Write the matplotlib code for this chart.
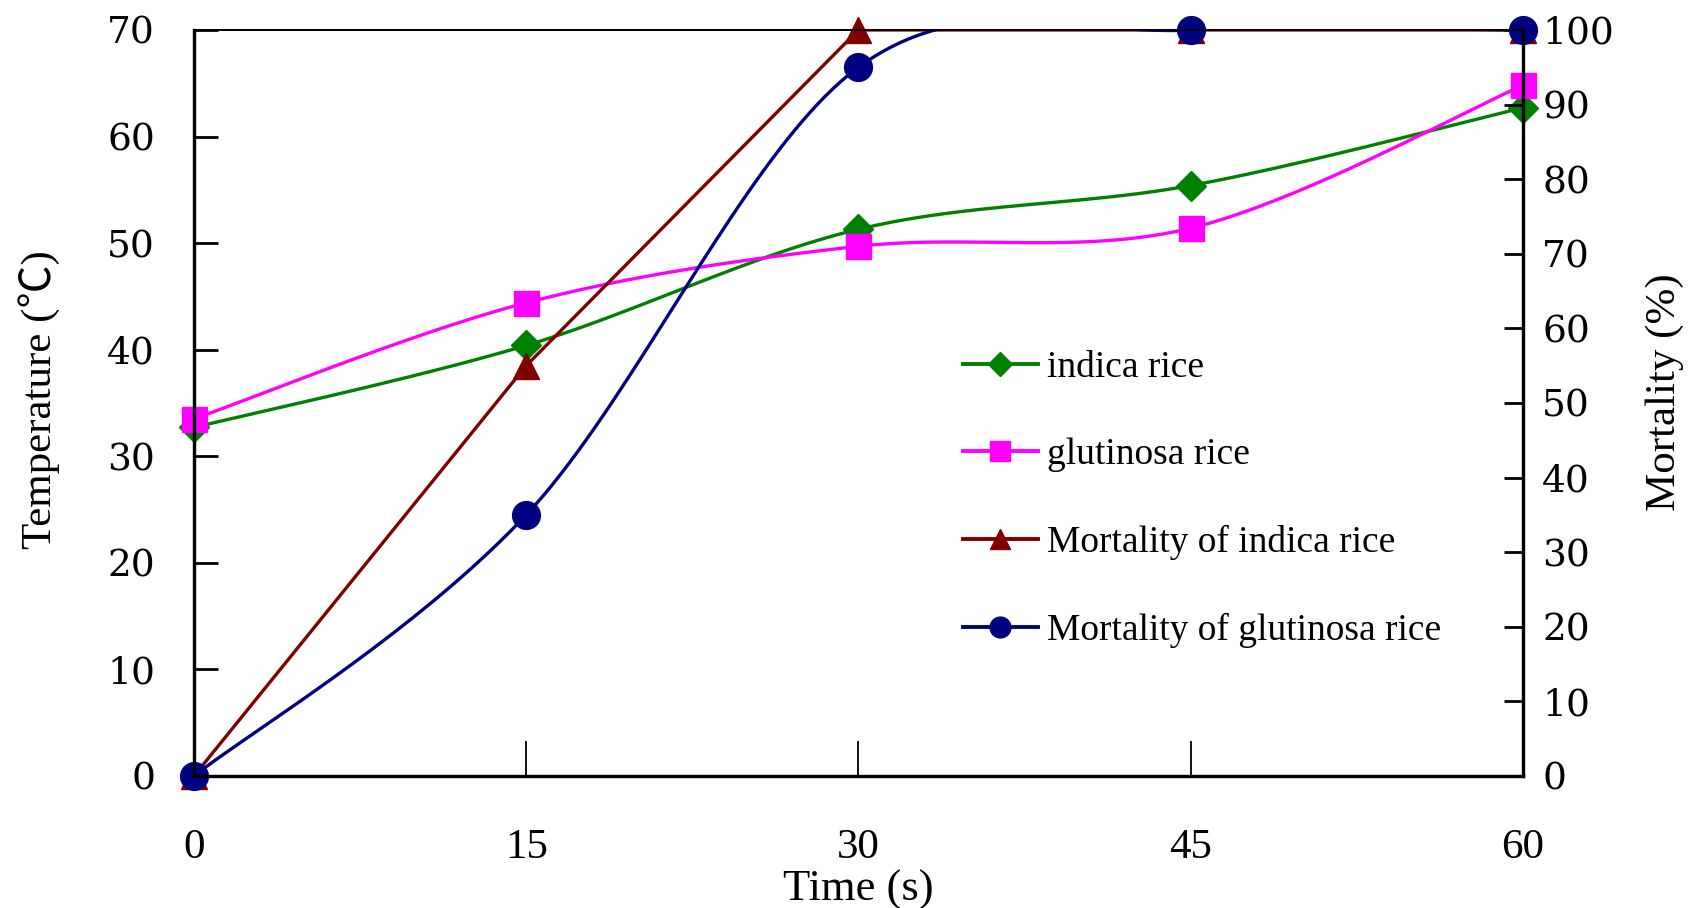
import numpy as np
import matplotlib
matplotlib.use("Agg")
import matplotlib.pyplot as plt
from matplotlib.lines import Line2D

# Data
time_s = [0, 15, 30, 45, 60]
temp_indica = [32.7, 40.4, 51.3, 55.4, 62.7]
temp_glutinosa = [33.5, 44.4, 49.7, 51.4, 64.8]
mort_indica = [0, 55, 100, 100, 100]
mort_glutinosa = [0, 35, 95, 100, 100]

labels = ["indica rice", "glutinosa rice", "Mortality of indica rice", "Mortality of glutinosa rice"]
colors = ["#008000", "#FF00FF", "#800000", "#000080"]

serif = ["Liberation Serif", "DejaVu Serif"]
plt.rcParams["font.family"] = serif


def smooth(x, y, n=40):
    # Excel-like smoothed line (Catmull-Rom as cubic Bezier)
    pts = np.column_stack([x, y]).astype(float)
    out = [pts[0]]
    t = np.linspace(0, 1, n)[1:, None]
    for i in range(len(pts) - 1):
        p0 = pts[max(i - 1, 0)]
        p1 = pts[i]
        p2 = pts[i + 1]
        p3 = pts[min(i + 2, len(pts) - 1)]
        c1 = p1 + (p2 - p0) / 6
        c2 = p2 - (p3 - p1) / 6
        seg = (1 - t) ** 3 * p1 + 3 * (1 - t) ** 2 * t * c1 + 3 * (1 - t) * t ** 2 * c2 + t ** 3 * p2
        out.extend(seg)
    out = np.array(out)
    return out[:, 0], out[:, 1]


fig = plt.figure(figsize=(16.91, 9.08), dpi=100)
ax = fig.add_axes([0.1147, 0.1454, 0.7859, 0.8216])
ax2 = ax.twinx()

lw = 2.4
# temperature curves (left axis)
sx, sy = smooth(time_s, temp_indica)
ax.plot(sx, sy, color=colors[0], lw=lw)
ax.plot(time_s, temp_indica, ls="none", marker="D", ms=15, color=colors[0], clip_on=False)
sx, sy = smooth(time_s, temp_glutinosa)
ax.plot(sx, sy, color=colors[1], lw=lw)
ax.plot(time_s, temp_glutinosa, ls="none", marker="s", ms=18, color=colors[1], clip_on=False)

# mortality curves (right axis)
ax2.plot(time_s, mort_indica, color=colors[2], lw=lw)
ax2.plot(time_s, mort_indica, ls="none", marker="^", ms=19, color=colors[2], clip_on=False)
sx, sy = smooth(time_s, mort_glutinosa)
ax2.plot(sx, sy, color=colors[3], lw=lw)
ax2.plot(time_s, mort_glutinosa, ls="none", marker="o", ms=20, color=colors[3], clip_on=False)

ax.set_xlim(0, 60)
ax.set_ylim(0, 70)
ax2.set_ylim(0, 100)
ax.set_xticks(time_s)
ax.set_yticks(range(0, 71, 10))
ax2.set_yticks(range(0, 101, 10))

ax.tick_params(axis="x", direction="in", length=25, width=1.3, pad=38, labelsize=31)
ax.tick_params(axis="y", direction="in", length=17, width=2, pad=28, labelsize=27)
ax2.tick_params(axis="y", direction="in", length=14, width=2, pad=14, labelsize=27)
for lab in ax.get_yticklabels() + ax2.get_yticklabels():
    lab.set_family(["DejaVu Serif"])

for a in (ax, ax2):
    for side in ("left", "right", "bottom"):
        a.spines[side].set_linewidth(2.3)
    a.spines["top"].set_linewidth(1.3)

ax.set_xlabel("Time (s)", fontsize=32, labelpad=2)
ax.set_ylabel("Temperature (℃)", fontsize=31,
              family=["Liberation Serif", "Noto Sans CJK SC"])
ax.yaxis.set_label_coords(-0.101, 0.505)
ax2.set_ylabel("Mortality (%)", fontsize=31)
ax2.yaxis.set_label_coords(1.092, 0.515)

# legend with line + marker handles
markers = ["D", "s", "^", "o"]
sizes = [12, 15, 15, 15]
handles = [Line2D([], [], color=c, lw=2.8, marker=m, ms=s) for c, m, s in zip(colors, markers, sizes)]
ax2.legend(handles, labels, loc="upper left", bbox_to_anchor=(0.553, 0.615), frameon=False,
           fontsize=27, labelspacing=1.4, handlelength=2.0, handletextpad=0.25)

fig.savefig("out.png", dpi=100)
